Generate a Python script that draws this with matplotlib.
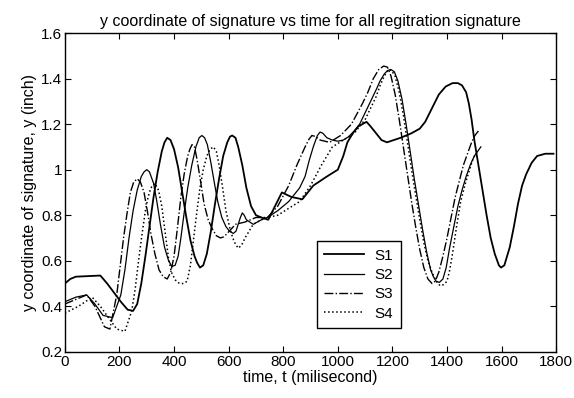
import matplotlib
matplotlib.use("Agg")
import matplotlib.pyplot as plt
from matplotlib.ticker import FuncFormatter

plt.rcParams['font.family'] = ['Liberation Sans', 'DejaVu Sans']

# S1 - registration signature 1 (time in ms, y in inch)
t1 = [0, 20, 40, 130, 155, 180, 205, 230, 250, 265, 280, 295, 310, 325, 340, 355, 365, 375, 387,
      400, 415, 430, 445, 460, 475, 485, 495, 507, 520, 535, 550, 565, 580, 595, 605, 613, 625,
      635, 650, 665, 682, 700, 720, 745, 770, 795, 830, 870, 910, 960, 1000, 1020, 1035, 1055,
      1075, 1090, 1105, 1120, 1140, 1160, 1180, 1205, 1230, 1270, 1300, 1320, 1345, 1370, 1395,
      1420, 1440, 1455, 1470, 1480, 1490, 1500, 1515, 1530, 1545, 1560, 1575, 1590, 1598, 1610,
      1630, 1645, 1660, 1675, 1690, 1710, 1730, 1760, 1790]
y1 = [0.50, 0.52, 0.53, 0.535, 0.50, 0.46, 0.42, 0.385, 0.38, 0.41, 0.50, 0.62, 0.75, 0.88, 0.99,
      1.08, 1.12, 1.14, 1.13, 1.09, 1.01, 0.90, 0.79, 0.69, 0.62, 0.59, 0.57, 0.58, 0.63, 0.73,
      0.85, 0.96, 1.06, 1.12, 1.145, 1.15, 1.14, 1.10, 1.02, 0.92, 0.84, 0.80, 0.79, 0.78, 0.84,
      0.90, 0.88, 0.87, 0.93, 0.97, 1.00, 1.06, 1.12, 1.16, 1.19, 1.20, 1.21, 1.19, 1.16, 1.13,
      1.12, 1.13, 1.14, 1.16, 1.18, 1.21, 1.27, 1.33, 1.365, 1.38, 1.38, 1.37, 1.34, 1.29, 1.22,
      1.13, 1.02, 0.91, 0.80, 0.70, 0.63, 0.58, 0.57, 0.58, 0.66, 0.75, 0.85, 0.93, 0.98, 1.03,
      1.06, 1.07, 1.07]

# S2
t2 = [0, 40, 80, 110, 140, 175, 205, 220, 235, 250, 265, 280, 290, 300, 310, 325, 337, 350, 365,
      380, 392, 404, 415, 425, 437, 450, 465, 480, 492, 502, 512, 522, 535, 548, 560, 575, 590,
      603, 617, 627, 635, 643, 650, 657, 665, 690, 720, 742, 780, 820, 860, 880, 895, 910, 925,
      935, 945, 960, 980, 1000, 1020, 1040, 1060, 1080, 1100, 1120, 1140, 1155, 1170, 1182, 1194,
      1207, 1220, 1235, 1250, 1265, 1280, 1295, 1310, 1325, 1340, 1350, 1360, 1372, 1385, 1397,
      1410, 1425, 1440, 1455, 1470, 1485, 1500, 1512, 1524]
y2 = [0.42, 0.44, 0.45, 0.41, 0.36, 0.35, 0.45, 0.56, 0.70, 0.82, 0.91, 0.97, 0.99, 1.00, 0.99,
      0.94, 0.86, 0.76, 0.66, 0.60, 0.575, 0.58, 0.62, 0.70, 0.81, 0.92, 1.02, 1.10, 1.14, 1.15,
      1.14, 1.11, 1.03, 0.94, 0.86, 0.79, 0.75, 0.73, 0.72, 0.73, 0.76, 0.79, 0.81, 0.80, 0.78,
      0.76, 0.78, 0.79, 0.82, 0.86, 0.92, 0.97, 1.04, 1.10, 1.15, 1.165, 1.16, 1.14, 1.13, 1.125,
      1.13, 1.145, 1.17, 1.20, 1.25, 1.30, 1.35, 1.39, 1.42, 1.435, 1.44, 1.43, 1.39, 1.31, 1.20,
      1.08, 0.96, 0.85, 0.74, 0.64, 0.56, 0.53, 0.51, 0.505, 0.52, 0.57, 0.66, 0.75, 0.84, 0.91,
      0.97, 1.02, 1.06, 1.08, 1.10]

# S3
t3 = [0, 40, 80, 110, 145, 165, 190, 215, 228, 240, 252, 265, 277, 290, 302, 315, 330, 345, 360,
      375, 388, 400, 412, 425, 437, 450, 458, 466, 475, 485, 497, 510, 525, 540, 555, 570, 582,
      595, 625, 660, 700, 742, 780, 820, 850, 880, 895, 905, 920, 935, 970, 1010, 1050, 1090,
      1110, 1130, 1150, 1168, 1182, 1195, 1210, 1225, 1240, 1255, 1270, 1285, 1300, 1315, 1330,
      1345, 1357, 1370, 1385, 1400, 1415, 1430, 1445, 1460, 1475, 1490, 1502, 1515]
y3 = [0.41, 0.43, 0.45, 0.40, 0.31, 0.30, 0.45, 0.70, 0.81, 0.90, 0.945, 0.96, 0.945, 0.90, 0.82,
      0.72, 0.63, 0.56, 0.53, 0.52, 0.55, 0.62, 0.74, 0.88, 0.98, 1.06, 1.09, 1.11, 1.10, 1.04,
      0.95, 0.85, 0.78, 0.74, 0.71, 0.70, 0.705, 0.72, 0.76, 0.77, 0.79, 0.79, 0.84, 0.93, 1.02,
      1.10, 1.135, 1.15, 1.145, 1.13, 1.12, 1.15, 1.20, 1.29, 1.34, 1.40, 1.44, 1.455, 1.45, 1.41,
      1.33, 1.22, 1.10, 0.98, 0.86, 0.75, 0.65, 0.57, 0.52, 0.50, 0.51, 0.55, 0.62, 0.70, 0.79,
      0.88, 0.95, 1.02, 1.07, 1.12, 1.15, 1.17]

# S4
t4 = [0, 50, 100, 130, 160, 190, 220, 245, 258, 270, 282, 295, 305, 315, 330, 343, 355, 370, 380,
      390, 405, 420, 435, 448, 460, 470, 482, 495, 507, 520, 532, 544, 555, 565, 578, 590, 603,
      615, 626, 636, 648, 660, 690, 720, 742, 780, 820, 860, 900, 940, 980, 1020, 1060, 1100,
      1120, 1140, 1155, 1170, 1185, 1197, 1210, 1225, 1240, 1255, 1270, 1285, 1300, 1315, 1330,
      1345, 1360, 1375, 1387, 1400, 1410, 1420, 1435, 1450, 1465, 1480, 1493, 1505]
y4 = [0.37, 0.40, 0.44, 0.40, 0.35, 0.30, 0.29, 0.38, 0.48, 0.60, 0.71, 0.82, 0.88, 0.92, 0.94,
      0.91, 0.84, 0.70, 0.61, 0.55, 0.515, 0.50, 0.50, 0.51, 0.58, 0.68, 0.80, 0.92, 1.00, 1.06,
      1.09, 1.10, 1.08, 1.02, 0.92, 0.82, 0.75, 0.70, 0.67, 0.655, 0.67, 0.70, 0.76, 0.78, 0.79,
      0.80, 0.83, 0.86, 0.93, 1.02, 1.10, 1.13, 1.16, 1.22, 1.27, 1.32, 1.37, 1.41, 1.44, 1.435,
      1.41, 1.34, 1.24, 1.12, 1.00, 0.89, 0.78, 0.68, 0.60, 0.55, 0.51, 0.49, 0.495, 0.51, 0.56,
      0.63, 0.75, 0.86, 0.93, 0.99, 1.04, 1.07]

x_ticks = [0, 200, 400, 600, 800, 1000, 1200, 1400, 1600, 1800]
y_ticks = [0.2, 0.4, 0.6, 0.8, 1.0, 1.2, 1.4, 1.6]

fig = plt.figure(figsize=(5.74, 3.98), dpi=100)
ax = fig.add_axes([0.113, 0.116, 0.856, 0.801])

ax.plot(t1, y1, color='black', linestyle='-', linewidth=1.3, label='S1')
ax.plot(t2, y2, color='black', linestyle='-', linewidth=0.9, label='S2')
ax.plot(t3, y3, color='black', linestyle='-.', linewidth=1.0, label='S3')
ax.plot(t4, y4, color='black', linestyle=':', linewidth=1.1, label='S4')

ax.set_xlim(0, 1800)
ax.set_ylim(0.2, 1.6)
ax.set_xticks(x_ticks)
ax.set_yticks(y_ticks)
ax.yaxis.set_major_formatter(FuncFormatter(lambda v, p: '%g' % round(v, 2)))
ax.tick_params(direction='in', length=4, top=True, right=True, labelsize=11, pad=2)
for s in ax.spines.values():
    s.set_linewidth(1.0)

ax.set_title('y coordinate of signature vs time for all regitration signature', fontsize=11.5, pad=5)
ax.set_xlabel('time, t (milisecond)', fontsize=11.5, labelpad=1)
ax.set_ylabel('y coordinate of signature, y (inch)', fontsize=11.5, labelpad=3)

leg = ax.legend(loc='lower left', bbox_to_anchor=(0.497, 0.05), fontsize=11, fancybox=False,
                framealpha=1, edgecolor='black', handlelength=2.6, borderpad=0.5,
                labelspacing=0.35, handletextpad=0.7)
leg.get_frame().set_linewidth(1.0)

fig.savefig('out.png', dpi=100)
